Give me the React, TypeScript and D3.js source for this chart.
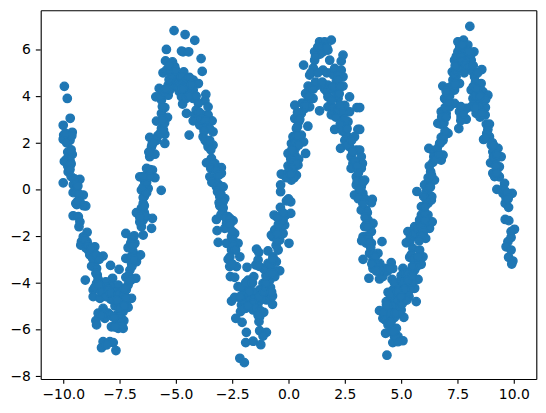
import React, { useEffect, useRef } from "react";
import * as d3 from "d3";

type Pt = [number, number];

// points, one list per arm of the wave
const firstDescent: Pt[] = [
  [-9.95,4.42],[-9.82,3.9],[-9.69,3.05],[-10,2.75],[-9.6,2.45],[-9.98,2.33],[-10,2.15],[-9.7,2.1],[-9.85,2.0],[-9.62,2.3],
  [-9.9,2.4],[-9.8,1.6],[-9.75,1.4],[-9.6,1.5],[-9.85,1.3],[-9.7,1.25],[-9.95,1.2],[-9.65,1.1],[-9.8,1.0],[-9.68,1.05],
  [-9.75,0.8],[-9.78,0.75],[-10,0.28],[-9.26,0.43],[-9.7,0.85],[-9.55,0.2],[-9.4,0.05],[-9.56,-0.14],[-9.42,-0.1],[-9.11,-0.24],
  [-9.44,-0.6],[-9.0,-0.71],[-9.56,-1.13],[-9.33,-1.17],[-9.26,-1.39],[-9.3,-1.6],[-8.94,-1.84],[-9.11,-2.03],[-9.19,-2.24],[-9.22,-2.39],
  [-8.94,-2.24],[-8.6,-2.46],[-8.89,-2.6],[-8.82,-2.81],[-8.23,-2.86],[-8.45,-2.89],[-8.6,-3.1],[-8.74,-3.29],[-8.52,-3.39],[-9.02,-3.89],
  [-8.49,-3.67],[-7.9,-3.26],[-7.52,-3.43],[-9.05,-2.15],[-9.0,-2.5],[-8.7,-2.7],[-9.4,-0.65],[-9.1,-0.7],
  [-9.65,1.7],[-9.65,0.55],[-9.5,0.45],[-9.4,0.25],[-9.35,0.15],[-9.3,-0.2],[-9.25,-0.55],[-9.35,-0.5],
  [-8.9,-2.4],[-8.75,-2.5],[-8.7,-2.95],[-8.55,-2.8],[-8.4,-3.0],[-8.55,-3.6],[-8.45,-3.85],
];

const firstTrough: Pt[] = [
  [-7.81,-3.81],[-8.11,-3.96],[-8.52,-4.03],[-8.67,-4.31],[-8.23,-4.31],[-7.86,-4.14],[-7.56,-4.1],[-8.67,-4.6],[-8.37,-4.67],[-8.0,-4.46],
  [-7.71,-4.6],[-7.41,-4.74],[-6.97,-4.67],[-7.19,-4.96],[-7.12,-5.06],[-7.49,-4.89],[-8.23,-5.1],[-8.45,-5.31],[-8.0,-5.31],[-7.63,-5.39],
  [-7.34,-5.24],[-8.55,-5.63],[-8.52,-5.81],[-8.15,-5.53],[-7.86,-5.89],[-7.56,-5.96],[-7.34,-5.96],[-7.31,-5.63],[-7.63,-5.74],[-8.23,-6.53],
  [-7.93,-6.53],[-7.78,-6.57],[-8.3,-6.79],[-8.08,-6.67],[-7.66,-6.91],[-8.1,-4.2],[-7.9,-4.7],[-7.6,-4.4],[-7.7,-5.0],[-7.45,-5.2],
  [-8.6,-4.2],[-8.4,-4.1],[-8.3,-4.4],[-8.1,-4.6],[-8.0,-4.3],[-7.9,-4.45],[-7.8,-4.75],[-7.55,-4.5],[-7.6,-4.75],[-7.3,-4.5],
  [-7.2,-4.3],[-7.2,-4.65],[-7.5,-5.1],[-7.3,-5.0],[-7.5,-5.5],[-7.45,-5.7],[-7.4,-5.85],[-7.7,-5.9],[-7.9,-5.4],[-8.2,-5.3],
  [-8.3,-5.4],[-7.75,-5.5],
];

const firstAscent: Pt[] = [
  [-7.22,-1.89],[-6.85,-1.99],[-6.45,-1.96],[-6.08,-1.67],[-6.04,-1.24],[-6.75,-1.0],[-6.53,-0.81],[-6.45,-0.6],[-6.4,-1.0],[-6.45,-1.31],
  [-6.53,-1.6],[-6.82,-2.31],[-7.12,-2.5],[-6.9,-2.67],[-6.57,-2.81],[-7.22,-2.96],[-6.75,-3.1],[-6.97,-3.17],[-7.04,-3.46],[-7.22,-3.77],
  [-6.78,-3.81],[-7.12,-4.1],[-7.27,-4.24],[-6.95,-2.1],[-7.0,-2.9],[-6.4,-0.3],[-5.65,-0.04],[-6.53,-0.03],[-6.45,-0.35],[-6.23,0.04],
  [-6.6,0.54],[-6.3,0.9],[-6.04,0.83],[-5.93,0.5],[-6.23,0.61],[-6.38,0.33],[-6.16,1.4],[-5.93,1.51],[-6.08,1.83],[-6.16,2.23],
  [-5.86,2.11],[-5.49,1.97],[-5.49,2.36],[-5.64,2.61],[-5.86,2.93],[-5.37,3.09],[-5.64,3.26],[-5.49,3.51],[-5.89,3.97],[-5.64,3.83],
  [-5.74,4.33],[-5.34,4.04],[-5.57,5.0],[-5.42,5.11],[-5.46,5.51],[-5.42,6.0],[-5.15,5.47],[-5.08,6.81],[-4.75,5.93],[-5.05,5.26],
  [-5.12,4.69],[-4.97,4.9],[-5.34,4.47],[-5.27,4.26],[-5.0,4.4],[-4.9,4.6],[-4.85,4.2],[-5.1,4.9],
  [-6.95,-3.3],[-7.0,-2.3],[-6.9,-2.4],[-6.7,-2.9],[-6.85,-3.0],[-7.1,-3.7],[-7.0,-3.9],[-6.6,-1.4],[-6.5,-1.1],[-6.35,-1.15],
  [-6.6,-1.2],[-6.4,-0.7],[-6.3,-0.15],[-6.45,0.1],[-6.3,0.3],[-6.15,0.55],[-6.15,0.85],[-6.45,0.55],[-6.2,1.6],[-6.05,1.95],
  [-6.0,2.0],[-5.8,2.3],[-5.7,2.4],[-5.55,2.55],[-5.5,2.85],[-5.6,3.0],[-5.6,3.55],[-5.7,4.0],[-5.55,4.2],[-5.45,4.3],
  [-5.3,4.7],[-5.2,4.9],[-5.25,5.1],[-5.3,5.3],[-5.0,5.1],[-4.9,4.4],[-4.8,4.5],[-4.7,4.7],[-4.55,4.5],[-4.5,4.2],
];

const secondDescent: Pt[] = [
  [-4.59,6.64],[-4.16,6.39],[-4.68,5.9],[-4.43,5.9],[-3.88,5.61],[-3.83,5.06],[-4.65,5.04],[-4.75,4.83],[-4.68,4.54],[-4.23,4.69],
  [-4.0,4.54],[-4.38,4.4],[-4.23,4.26],[-4.53,4.19],[-4.75,3.97],[-4.23,3.9],[-3.67,4.07],[-3.71,3.8],[-3.57,3.54],[-4.0,3.69],
  [-4.7,3.66],[-4.53,3.26],[-4.16,3.19],[-4.23,2.94],[-3.79,3.19],[-3.57,3.19],[-3.39,2.94],[-3.94,2.76],[-3.79,2.69],[-4.41,2.33],
  [-3.35,2.47],[-3.79,2.26],[-3.64,2.04],[-3.35,1.9],[-3.57,1.83],[-3.42,1.33],[-3.64,1.14],[-3.27,1.11],[-2.98,0.93],[-3.49,0.54],
  [-2.98,0.69],[-3.27,0.4],[-2.9,0.11],[-3.2,0.11],[-3.05,-0.31],[-2.83,-0.39],[-4.5,4.7],[-4.4,4.8],[-4.6,4.4],[-4.3,4.5],
  [-3.08,-0.57],[-2.9,-0.53],[-2.93,-0.96],[-3.2,-1.29],[-2.68,-1.17],[-2.46,-1.34],[-2.75,-1.46],[-3.17,-1.77],[-2.83,-1.67],[-2.39,-1.89],
  [-2.53,-2.03],[-3.12,-2.27],[-2.75,-2.31],[-2.24,-2.31],[-2.53,-2.6],[-2.16,-2.89],[-2.68,-3.0],[-2.61,-3.31],[-2.31,-3.31],[-2.58,-3.74],
  [-2.39,-3.77],
  [-4.7,4.3],[-4.55,3.9],[-4.4,4.0],[-4.1,4.0],[-4.1,3.4],[-3.95,3.3],[-3.85,3.0],[-3.7,2.95],[-3.6,2.7],[-3.5,2.6],
  [-3.75,2.5],[-3.7,2.1],[-3.5,2.1],[-3.45,1.7],[-3.5,1.2],[-3.35,1.1],[-3.45,0.9],[-3.2,0.8],[-3.1,0.6],[-3.4,0.3],
  [-3.1,0.2],[-3.0,0.1],[-3.15,-0.1],[-3.0,-0.2],[-3.05,-0.7],[-2.9,-0.8],[-3.0,-1.1],[-2.8,-1.2],[-2.6,-1.25],[-2.6,-1.5],
  [-2.5,-1.8],[-2.45,-2.2],[-2.45,-2.4],[-2.35,-2.6],[-2.6,-2.9],[-2.5,-3.2],
];

const secondTrough: Pt[] = [
  [-1.42,-2.56],[-1.32,-2.7],[-0.91,-2.64],[-1.84,-3.34],[-1.45,-3.24],[-1.35,-3.03],[-2.24,-4.17],[-1.79,-3.89],[-1.54,-3.74],[-1.94,-4.31],
  [-1.72,-4.17],[-1.13,-4.03],[-0.83,-3.89],[-1.28,-4.31],[-0.91,-4.39],[-2.53,-4.79],[-2.39,-4.63],[-2.09,-4.96],[-1.79,-4.67],[-1.42,-4.6],
  [-1.65,-5.03],[-1.35,-4.89],[-0.98,-4.74],[-0.71,-4.57],[-0.71,-4.93],[-2.13,-5.24],[-2.34,-5.53],[-2.06,-5.7],[-1.57,-5.17],[-1.28,-5.46],
  [-1.1,-5.27],[-1.31,-5.67],[-1.87,-6.13],[-1.28,-6.06],[-0.98,-6.13],[-1.13,-6.29],[-1.9,-6.57],[-1.57,-6.51],[-1.23,-6.66],[-2.16,-7.24],
  [-1.96,-7.43],[-2.0,-4.5],[-1.55,-4.4],[-1.15,-4.7],[-2.1,-4.7],
  [-2.1,-4.2],[-1.9,-4.0],[-1.6,-4.0],[-2.0,-4.9],[-1.9,-5.1],[-1.75,-4.4],[-1.5,-4.7],[-1.3,-4.6],[-1.1,-4.4],[-1.0,-4.2],
  [-0.8,-4.2],[-1.0,-4.0],[-1.0,-3.7],[-1.1,-3.4],[-1.3,-3.3],[-0.75,-4.4],[-1.6,-4.9],[-1.45,-5.1],[-1.25,-5.2],[-1.35,-5.4],
  [-2.0,-5.1],[-2.15,-4.6],[-1.8,-5.0],
];

const secondAscent: Pt[] = [
  [-0.39,-3.49],[-0.61,-3.46],[-0.98,-3.39],[-0.83,-3.6],[-0.61,-3.74],[-0.91,-3.17],[-0.54,-3.1],[-0.69,-2.89],[-0.46,-2.6],[0.02,-2.31],
  [-0.69,-2.03],[-0.76,-1.96],[-0.39,-2.17],[-0.61,-1.74],[-0.24,-1.89],[-0.39,-1.6],[-0.17,-1.53],[-0.64,-1.1],[-0.36,-0.77],[-0.12,-1.1],
  [0.1,-1.03],[-0.24,-1.31],[0.1,-0.53],[-0.09,-0.49],[0,-0.41],[-0.35,-0.1],[-0.35,0.19],[-0.32,0.66],[0.13,0.4],[0.35,0.61],
  [-0.02,1.01],[0.42,1.04],[-0.02,1.54],[0.28,1.47],[0.76,1.54],[0.13,1.97],[0.67,2.04],[0.2,2.26],[0.57,2.33],[0.35,2.61],
  [0.28,3.04],[0.86,2.71],[0.28,3.61],[0.57,3.26],[0.72,3.47],[0.87,3.83],[1.09,3.9],[0.94,3.54],[1.38,3.37],[0.76,4.11],
  [0.87,4.43],[1.31,4.47],[1.75,4.47],[0.94,4.9],[1.16,5.09],[1.53,5.11],[0.67,5.33],[1.16,5.54],[1.16,5.9],[1.38,6.33],
  [1.6,6.33],[1.9,6.4],[1.53,5.9],[1.75,5.97],[1.83,5.54],[0.25,2.2],[0.3,1.75],[0.1,1.3],[0.2,0.8],[0.45,2.9],
  [-0.7,-3.6],[-0.8,-3.2],[-0.7,-3.0],[-0.55,-2.4],[-0.5,-2.2],[-0.5,-1.9],[-0.45,-1.5],[-0.3,-1.3],[-0.25,-1.0],[-0.5,-1.2],
  [0.3,2.0],[0.4,2.3],[0.45,1.9],[0.15,1.7],[0.45,1.3],[0.2,1.2],[0.35,1.1],[0.15,0.9],[0.25,0.5],[0.0,0.75],
  [-0.1,0.5],[0.1,0.65],[0.4,2.7],[0.4,3.3],[0.5,3.0],[0.6,3.7],[0.75,3.6],[0.9,4.0],[1.0,4.4],[1.1,4.3],
  [1.2,4.6],[1.5,4.6],[1.6,4.3],[1.7,4.2],[1.1,5.2],[1.0,5.0],[1.3,5.0],[1.7,5.0],[1.9,5.0],[1.3,6.1],
  [1.5,6.1],[1.4,5.8],[1.7,6.1],[1.2,5.7],[2.0,4.9],
];

const thirdDescent: Pt[] = [
  [2.34,5.5],[2.42,5.76],[2.05,5.19],[2.34,5.11],[2.42,4.83],[2.12,4.61],[2.42,4.43],[2.12,4.33],[1.75,3.97],[2.71,3.97],
  [2.2,3.9],[1.75,3.54],[2.12,3.47],[2.71,3.33],[3.04,3.51],[2.27,3.19],[2.64,2.9],[2.05,2.57],[2.57,2.33],[3.08,2.57],
  [2.93,2.26],[2.31,1.76],[2.71,1.83],[3.01,1.69],[2.78,1.4],[2.86,1.11],[2.78,0.9],[3.01,0.54],[3.01,0.19],[2.93,-0.24],
  [3.16,3.51],[3.16,2.57],[3.16,1.69],[3.23,1.4],[3.28,1.11],[3.23,0.9],[3.38,0.4],[3.16,0.4],[3.23,0.11],[3.3,-0.17],
  [3.72,-0.43],[3.38,-0.39],[3.45,-0.89],[3.68,-0.57],[3.23,-0.89],[3.53,-1.31],[3.75,-1.46],[3.38,-1.6],[3.68,-1.81],[3.31,-2.03],
  [3.68,-2.31],[4.15,-2.24],[3.6,-2.74],[3.97,-2.74],[3.31,-3.0],[3.75,-3.03],[4.05,-3.17],[3.75,-3.39],[4.56,-3.14],[4.27,-3.39],
  [4.63,-3.39],[3.57,-3.81],[4.04,-3.84],[4.19,-3.74],[4.6,-3.86],[2.5,3.6],[2.35,2.8],[3.5,-1.0],[3.5,-2.0],
  [1.9,4.3],[2.0,4.4],[2.1,4.0],[1.9,3.8],[2.0,3.5],[1.9,3.2],[2.1,3.1],[2.2,3.4],[2.3,3.6],[2.4,3.3],
  [2.5,3.0],[2.3,2.8],[2.4,2.5],[2.6,2.6],[2.5,2.1],[2.6,1.9],[2.8,2.1],[2.85,1.6],[2.95,1.2],[3.05,1.0],
  [3.1,0.7],[3.05,0.35],[3.15,0.0],[3.1,-0.4],[2.2,4.9],[2.2,4.7],[2.3,4.4],[2.25,4.1],
  [3.3,0.3],[3.3,-0.6],[3.4,-1.2],[3.45,-1.5],[3.5,-1.6],[3.55,-2.1],[3.45,-2.3],[3.6,-2.3],[3.25,-2.2],[3.65,-2.5],
  [3.75,-2.8],[3.85,-2.9],[3.9,-3.2],[3.7,-3.2],[4.0,-3.4],[4.1,-3.5],[3.9,-3.5],[4.4,-3.5],[4.5,-3.4],
];

const thirdTrough: Pt[] = [
  [4.42,-4.41],[4.64,-4.31],[4.34,-4.81],[4.04,-5.2],[4.34,-5.17],[4.56,-4.89],[4.86,-4.67],[4.79,-5.03],[4.19,-5.53],[4.42,-5.46],
  [4.63,-5.31],[5.12,-5.49],[5.0,-5.17],[4.42,-5.81],[4.79,-5.96],[4.31,-6.17],[4.56,-6.1],[4.86,-6.31],[4.63,-6.57],[5.08,-6.49],
  [4.86,-6.53],[4.37,-7.11],[5.08,-3.39],[5.38,-3.53],[5.6,-3.46],[5.23,-3.81],[5.75,-3.86],[4.93,-4.03],[5.38,-4.1],[5.6,-4.24],
  [5.0,-4.39],[5.3,-4.53],[5.67,-4.81],[4.79,-4.46],[5.15,-4.74],[4.93,-4.89],[5.08,-4.17],[4.7,-4.0],[5.5,-4.0],[5.2,-4.2],
  [4.7,-4.4],[4.6,-4.6],[4.5,-4.5],[4.9,-4.3],[5.0,-3.7],[5.0,-3.9],[5.15,-3.6],[5.3,-3.6],[5.1,-4.0],[5.3,-3.9],
  [5.5,-3.7],[5.4,-4.3],[5.2,-4.5],[5.15,-4.3],[5.35,-4.6],[4.85,-4.4],[4.8,-4.8],[4.6,-5.0],[4.45,-5.1],[4.5,-5.3],
  [4.2,-5.3],[4.3,-5.6],[4.45,-5.7],[4.7,-5.5],[4.9,-5.3],[4.75,-5.3],[4.55,-5.7],[4.35,-4.95],[4.95,-5.0],[5.05,-4.9],
  [5.25,-4.75],[5.0,-4.6],[4.7,-6.3],[4.65,-6.1],
];

const thirdAscent: Pt[] = [
  [5.3,-1.81],[5.38,-2.24],[5.23,-2.29],[5.52,-2.53],[5.82,-2.6],[5.97,-2.89],[5.38,-2.91],[5.67,-3.03],[5.89,-3.21],[5.67,-2.03],
  [6.09,-2.1],[6.26,-1.67],[5.6,-1.6],[5.82,-1.31],[6.04,-1.46],[6.38,-1.39],[5.9,-1.1],[6.19,-1.1],[5.9,-0.74],[6.19,-0.6],
  [6.34,-0.46],[5.7,-0.09],[6.12,-0.1],[6.36,-0.31],[6.04,0.19],[6.26,0.33],[6.48,0.4],[6.31,0.76],[6.41,1.16],[6.78,1.26],
  [6.86,1.47],[6.56,1.54],[6.23,1.76],[6.71,1.97],[6.86,2.11],[6.78,2.23],[7.08,2.4],[6.63,2.83],[7.0,3.26],[6.78,3.33],
  [7.15,3.54],[7.0,3.83],[6.93,3.9],[7.37,3.69],[7.56,2.61],[7.66,3.11],[7.89,3.01],[7.89,3.47],[7.59,3.33],[6.85,4.43],
  [7.07,4.33],[7.37,4.26],[7.59,4.54],[7.3,4.69],[7.27,5.04],[7.44,4.83],[7.37,5.54],[7.52,5.9],[7.52,6.33],[7.77,6.4],
  [7.96,6.19],[7.74,5.83],[8.23,5.9],[8.11,5.54],[7.74,5.26],[7.55,5.5],[7.9,5.6],[6.45,1.6],[6.2,0.0],
  [5.45,-2.8],[5.55,-3.0],[5.75,-2.9],[5.7,-3.3],[5.5,-3.3],[5.4,-2.1],[5.5,-2.0],[5.6,-1.9],[5.75,-1.7],[5.9,-1.6],
  [6.0,-1.8],[5.9,-2.0],[5.8,-2.2],[6.05,-1.3],[6.05,-1.0],[6.05,-0.75],[6.1,-0.4],[6.0,-0.3],
  [6.2,0.5],[6.3,0.1],[6.35,0.6],[6.25,1.0],[6.45,1.4],[6.55,1.3],[6.6,1.75],[6.7,1.5],[6.75,2.0],[6.9,2.3],
  [6.95,2.5],[6.75,2.8],[6.9,2.85],[6.8,3.1],[7.0,3.1],[6.95,3.5],[7.05,3.9],[7.1,3.75],[7.15,4.0],[7.2,4.4],
  [7.0,4.2],[7.4,4.5],[7.35,4.95],[7.45,5.1],[7.6,5.2],[7.45,5.7],[7.65,5.7],[7.7,5.5],[7.85,5.35],[8.0,5.25],
  [7.8,5.0],[7.6,6.1],[7.85,6.0],[8.1,5.8],[8.0,5.9],[7.7,6.2],[7.4,5.3],[7.65,2.95],[7.75,3.25],[7.65,3.55],
];

const lastDescent: Pt[] = [
  [8.19,5.04],[8.58,5.14],[8.26,4.83],[8.05,6.99],[8.11,4.26],[8.55,4.54],[8.63,4.19],[8.85,4.04],[8.19,3.9],[8.4,3.83],
  [8.11,3.54],[8.74,3.51],[8.33,3.26],[8.73,3.19],[8.78,2.8],[8.92,2.8],[8.85,2.57],[8.66,2.14],[8.92,2.26],[9.0,1.9],
  [9.3,1.76],[9.07,1.61],[9.44,1.4],[8.97,1.14],[9.36,0.97],[9.07,0.69],[9.36,0.54],[9.59,0.26],[9.25,0],[9.52,-0.17],
  [9.93,-0.17],[9.66,-0.39],[9.62,-0.6],[9.77,-0.77],[9.62,-1.29],[9.78,-1.34],[10.03,-1.71],[9.88,-1.81],[9.88,-2.06],[9.74,-2.24],
  [9.66,-2.46],[9.88,-2.6],[9.77,-2.91],[9.96,-3.07],[9.91,-3.2],[8.4,4.2],[8.5,3.4],[9.2,1.3],
  [8.2,5.3],[8.4,5.0],[8.3,4.6],[8.2,4.4],[8.35,4.3],[8.3,4.0],[8.2,3.6],[8.45,3.6],[8.3,3.5],[8.5,3.1],
  [8.6,3.25],[8.6,3.9],[8.75,3.85],[8.5,4.0],[8.8,2.4],[8.75,2.2],[9.05,2.0],[9.1,1.9],[9.1,1.4],[9.25,1.5],
  [9.2,1.0],[9.15,0.55],[9.25,0.7],[9.5,0.0],[9.6,-0.05],[9.7,-0.15],[9.75,-0.4],
];

const xTicks = [-10, -7.5, -5, -2.5, 0, 2.5, 5, 7.5, 10];
const yTicks = [-8, -6, -4, -2, 0, 2, 4, 6];
const points = [
  ...firstDescent, ...firstTrough, ...firstAscent, ...secondDescent, ...secondTrough,
  ...secondAscent, ...thirdDescent, ...thirdTrough, ...thirdAscent, ...lastDescent,
];

const width = 546;
const height = 413;
const margin = { top: 10.3, right: 9.7, bottom: 34, left: 40.7 };

function ScatterChart() {
  const ref = useRef<SVGSVGElement>(null);

  useEffect(() => {
    const svg = d3.select(ref.current);
    svg.selectAll("*").remove();

    const x = d3.scaleLinear().domain([-11, 11]).range([margin.left, width - margin.right]);
    const y = d3.scaleLinear().domain([-8.13, 7.68]).range([height - margin.bottom, margin.top]);

    svg.append("g")
      .attr("fill", "#1f77b4")
      .attr("stroke", "#1f77b4")
      .attr("stroke-width", 1.39)
      .selectAll("circle")
      .data(points)
      .join("circle")
      .attr("cx", d => x(d[0]))
      .attr("cy", d => y(d[1]))
      .attr("r", 4.17);

    const xAxis = d3.axisBottom(x).tickValues(xTicks).tickFormat(d3.format(".1f") as any).tickSize(4.86).tickPadding(4.9).tickSizeOuter(0);
    const yAxis = d3.axisLeft(y).tickValues(yTicks).tickFormat(d3.format("d") as any).tickSize(4.86).tickPadding(4.9).tickSizeOuter(0);

    const axes = svg.append("g");
    axes.append("g").attr("transform", `translate(0,${height - margin.bottom})`).call(xAxis);
    axes.append("g").attr("transform", `translate(${margin.left},0)`).call(yAxis);
    axes.append("g").attr("transform", `translate(0,${margin.top})`).call(d3.axisTop(x).tickValues([]).tickSizeOuter(0));
    axes.append("g").attr("transform", `translate(${width - margin.right},0)`).call(d3.axisRight(y).tickValues([]).tickSizeOuter(0));

    axes.selectAll("text")
      .attr("fill", "#000")
      .style("font-family", "'DejaVu Sans'")
      .style("font-size", "13.89px");
    axes.selectAll("line, path")
      .attr("stroke", "#000")
      .attr("stroke-width", 1.11);
  }, []);

  return <svg ref={ref} width={width} height={height} style={{ position: "absolute", left: 0, top: 0, background: "#fff" }} />;
}

export default function App() {
  return <ScatterChart />;
}
